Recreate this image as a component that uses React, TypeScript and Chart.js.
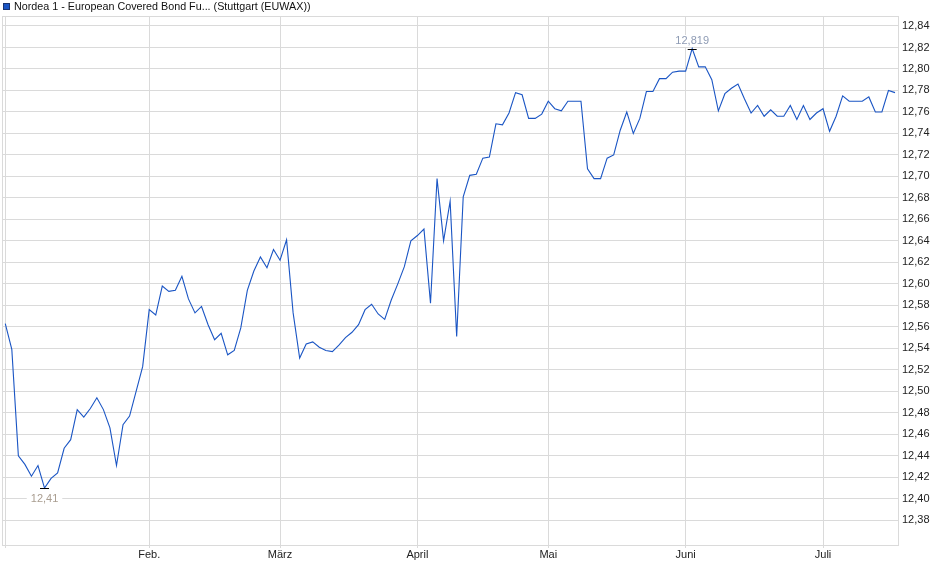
import React, { useEffect, useRef } from 'react';
import { Chart, registerables } from 'chart.js';

Chart.register(...registerables);

// daily prices, 2 Jan - mid July (one value per trading day)
const prices = [
  12.563, 12.539, 12.440, 12.432, 12.421, 12.431, 12.410, 12.419, 12.424, 12.447,
  12.455, 12.483, 12.476, 12.484, 12.494, 12.483, 12.466, 12.431, 12.469, 12.477,
  12.500, 12.523, 12.576, 12.571, 12.598, 12.593, 12.594, 12.607, 12.586, 12.573,
  12.579, 12.562, 12.548, 12.554, 12.534, 12.538, 12.559, 12.594, 12.612, 12.625,
  12.615, 12.632, 12.622, 12.641, 12.573, 12.531, 12.544, 12.546, 12.541, 12.538,
  12.537, 12.543, 12.550, 12.555, 12.562, 12.576, 12.581, 12.572, 12.567, 12.585,
  12.600, 12.616, 12.640, 12.645, 12.651, 12.582, 12.698, 12.640, 12.677, 12.551,
  12.681, 12.701, 12.702, 12.717, 12.718, 12.749, 12.748, 12.759, 12.778, 12.776,
  12.754, 12.754, 12.758, 12.770, 12.763, 12.761, 12.770, 12.770, 12.770, 12.707,
  12.698, 12.698, 12.717, 12.720, 12.743, 12.760, 12.740, 12.754, 12.779, 12.779,
  12.791, 12.791, 12.797, 12.798, 12.798, 12.819, 12.802, 12.802, 12.790, 12.761,
  12.777, 12.782, 12.786, 12.772, 12.759, 12.766, 12.756, 12.762, 12.756, 12.756,
  12.766, 12.753, 12.766, 12.753, 12.759, 12.763, 12.742, 12.756, 12.775, 12.770,
  12.770, 12.770, 12.774, 12.760, 12.760, 12.780, 12.778,
];

// first trading day of each month (index into prices) and its label
const monthIndex = [0, 22, 42, 63, 83, 104, 125];
const monthLabels = ['', 'Feb.', 'März', 'April', 'Mai', 'Juni', 'Juli'];

const priceTicks = [
  12.38, 12.40, 12.42, 12.44, 12.46, 12.48, 12.50, 12.52, 12.54, 12.56, 12.58, 12.60,
  12.62, 12.64, 12.66, 12.68, 12.70, 12.72, 12.74, 12.76, 12.78, 12.80, 12.82, 12.84,
];

const seriesName = 'Nordea 1 - European Covered Bond Fu... (Stuttgart (EUWAX))';

const LINE = '#1a55c4';
const GRID = '#dadada';
const FONT = '"Liberation Sans", Arial, sans-serif';

const fmt = (v: number, digits: number) =>
  v.toFixed(digits).replace(/0+$/, '').replace(/\.$/, '').replace('.', ',');

// frame round the plot area
const framePlugin = {
  id: 'frame',
  beforeDatasetsDraw(chart: any) {
    const { ctx, chartArea: a } = chart;
    ctx.save();
    ctx.strokeStyle = GRID;
    ctx.lineWidth = 1;
    ctx.strokeRect(a.left + 0.5, a.top + 0.5, a.right - a.left, a.bottom - a.top);
    ctx.restore();
  },
};

// legend in the top left corner
const legendPlugin = {
  id: 'topLegend',
  afterDraw(chart: any) {
    const { ctx } = chart;
    ctx.save();
    ctx.fillStyle = LINE;
    ctx.fillRect(3, 3, 7, 7);
    ctx.strokeStyle = '#1a3470';
    ctx.lineWidth = 1;
    ctx.strokeRect(3.5, 3.5, 6, 6);
    ctx.fillStyle = '#111';
    ctx.font = `10.75px ${FONT}`;
    ctx.textBaseline = 'middle';
    ctx.textAlign = 'left';
    ctx.fillText(seriesName, 14, 7);
    ctx.restore();
  },
};

// markers and labels for lowest and highest price
const extremesPlugin = {
  id: 'extremes',
  afterDatasetsDraw(chart: any) {
    const { ctx, scales } = chart;
    let lo = 0;
    let hi = 0;
    prices.forEach((v, i) => {
      if (v < prices[lo]) lo = i;
      if (v > prices[hi]) hi = i;
    });
    ctx.save();
    ctx.font = `11px ${FONT}`;
    ctx.textAlign = 'center';
    ctx.textBaseline = 'middle';
    const mark = (i: number, below: boolean, color: string) => {
      const px = scales.x.getPixelForValue(i);
      const py = Math.round(scales.y.getPixelForValue(prices[i])) + 0.5;
      ctx.strokeStyle = '#000';
      ctx.lineWidth = 1;
      ctx.beginPath();
      ctx.moveTo(px - 4.5, py);
      ctx.lineTo(px + 4.5, py);
      ctx.stroke();
      const text = fmt(prices[i], 3);
      const w = ctx.measureText(text).width;
      const ty = below ? py + 10 : py - 8.5;
      ctx.fillStyle = '#fff';
      ctx.fillRect(px - w / 2 - 4, ty - 6, w + 8, 12);
      ctx.fillStyle = color;
      ctx.fillText(text, px, ty);
    };
    mark(lo, true, '#a99d90');
    mark(hi, false, '#8e9bb4');
    ctx.restore();
  },
};

const App: React.FC = () => {
  const canvasRef = useRef<HTMLCanvasElement>(null);

  useEffect(() => {
    if (!canvasRef.current) return;
    const chart = new Chart(canvasRef.current, {
      type: 'line',
      data: {
        datasets: [
          {
            label: seriesName,
            data: prices.map((v, i) => ({ x: i, y: v })),
            borderColor: LINE,
            borderWidth: 1.1,
            pointRadius: 0,
            tension: 0,
            fill: false,
          },
        ],
      },
      options: {
        animation: false,
        responsive: false,
        layout: { padding: { left: 2, top: 16, right: 0, bottom: 0 } },
        plugins: {
          legend: { display: false },
          tooltip: { enabled: false },
        },
        scales: {
          x: {
            type: 'linear',
            min: -0.5,
            max: prices.length - 0.54,
            afterBuildTicks: (s: any) => {
              s.ticks = monthIndex.map((v) => ({ value: v }));
            },
            afterFit: (s: any) => {
              s.height = 34;
            },
            border: { display: false },
            grid: { color: GRID, tickLength: 3, drawTicks: true },
            ticks: {
              autoSkip: false,
              maxRotation: 0,
              padding: 0,
              color: '#222',
              font: { family: FONT, size: 11 },
              callback: (v: any) => monthLabels[monthIndex.indexOf(v)] ?? '',
            },
          },
          y: {
            position: 'right',
            min: 12.357,
            max: 12.8493,
            afterBuildTicks: (s: any) => {
              s.ticks = priceTicks.map((v) => ({ value: v }));
            },
            afterFit: (s: any) => {
              s.width = 42;
            },
            border: { display: false },
            grid: { color: GRID, drawTicks: false },
            ticks: {
              padding: 4,
              color: '#222',
              font: { family: FONT, size: 11 },
              callback: (v: any) => Number(v).toFixed(2).replace('.', ','),
            },
          },
        },
      },
      plugins: [framePlugin, legendPlugin, extremesPlugin],
    });
    return () => {
      chart.destroy();
    };
  }, []);

  return (
    <div style={{ position: 'absolute', left: 0, top: 0, width: 940, height: 579, background: '#fff' }}>
      <canvas ref={canvasRef} width={940} height={579} style={{ display: 'block' }} />
    </div>
  );
};

export default App;
